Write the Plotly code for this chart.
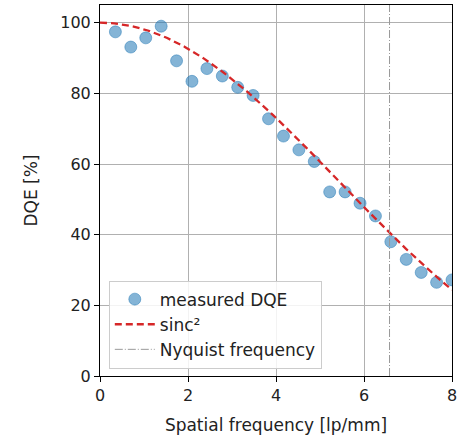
import numpy as np
import plotly.graph_objects as go

# Measured data
freq = [0.35, 0.70, 1.04, 1.39, 1.74, 2.09, 2.43, 2.78, 3.13, 3.48, 3.83, 4.17,
        4.52, 4.87, 5.22, 5.57, 5.91, 6.26, 6.61, 6.96, 7.30, 7.65, 8.00]
dqe = [97.4, 93.1, 95.7, 99.0, 89.2, 83.4, 87.0, 84.9, 81.7, 79.4, 72.8, 67.9,
       64.0, 60.7, 52.1, 52.1, 48.9, 45.3, 38.0, 33.0, 29.3, 26.5, 27.2]
nyquist = 6.58
x_ticks = [0, 2, 4, 6, 8]
y_ticks = [0, 20, 40, 60, 80, 100]

f_model = np.linspace(0, 8, 200)
sinc2 = 100 * np.sinc(f_model / (2 * nyquist)) ** 2

fig = go.Figure()
fig.add_trace(go.Scatter(
    x=freq, y=dqe, mode="markers", name="measured DQE",
    marker=dict(size=12, color="rgba(31,119,180,0.55)",
                line=dict(width=0.8, color="rgba(31,119,180,0.6)")),
))
fig.add_trace(go.Scatter(
    x=f_model, y=sinc2, mode="lines", name="sinc²",
    line=dict(color="#d62728", width=2.3, dash="7px,4px"),
))
fig.add_trace(go.Scatter(
    x=[nyquist, nyquist], y=[0, 105], mode="lines", name="Nyquist frequency",
    line=dict(color="#999999", width=1, dash="8px,2px,1px,2px"),
))

font = "DejaVu Sans, Arial, sans-serif"
fig.update_layout(
    width=457, height=435,
    margin=dict(l=100, r=5, t=5, b=59),
    paper_bgcolor="white", plot_bgcolor="white",
    font=dict(family=font, size=16, color="#222222"),
    showlegend=True,
    legend=dict(x=0.025, y=0.02, xanchor="left", yanchor="bottom",
                bgcolor="rgba(255,255,255,0.85)", bordercolor="#cccccc",
                borderwidth=1, font=dict(size=17, family=font),
                tracegroupgap=0, itemwidth=40),
)
fig.update_xaxes(
    range=[0, 8], tickvals=x_ticks, showgrid=True, gridcolor="#b0b0b0",
    gridwidth=1, zeroline=False, showline=True, linecolor="black",
    linewidth=1, mirror=True, ticks="outside", ticklen=5, tickcolor="black",
    automargin=False, ticklabeloverflow="allow",
    title=dict(text="Spatial frequency [lp/mm]", standoff=15,
               font=dict(size=17, family=font)),
    tickfont=dict(size=16, family=font),
)
fig.update_yaxes(
    range=[0, 105], tickvals=y_ticks, showgrid=True, gridcolor="#b0b0b0",
    gridwidth=1, zeroline=False, showline=True, linecolor="black",
    linewidth=1, mirror=True, ticks="outside", ticklen=5, tickcolor="black",
    automargin=False, ticklabeloverflow="allow",
    title=dict(text="DQE [%]", standoff=18, font=dict(size=17, family=font)),
    tickfont=dict(size=16, family=font),
)

fig.write_html("out.html",
               config={"displayModeBar": False},
               post_script="document.body.style.margin='0';"
                           "document.body.style.overflow='hidden';")
